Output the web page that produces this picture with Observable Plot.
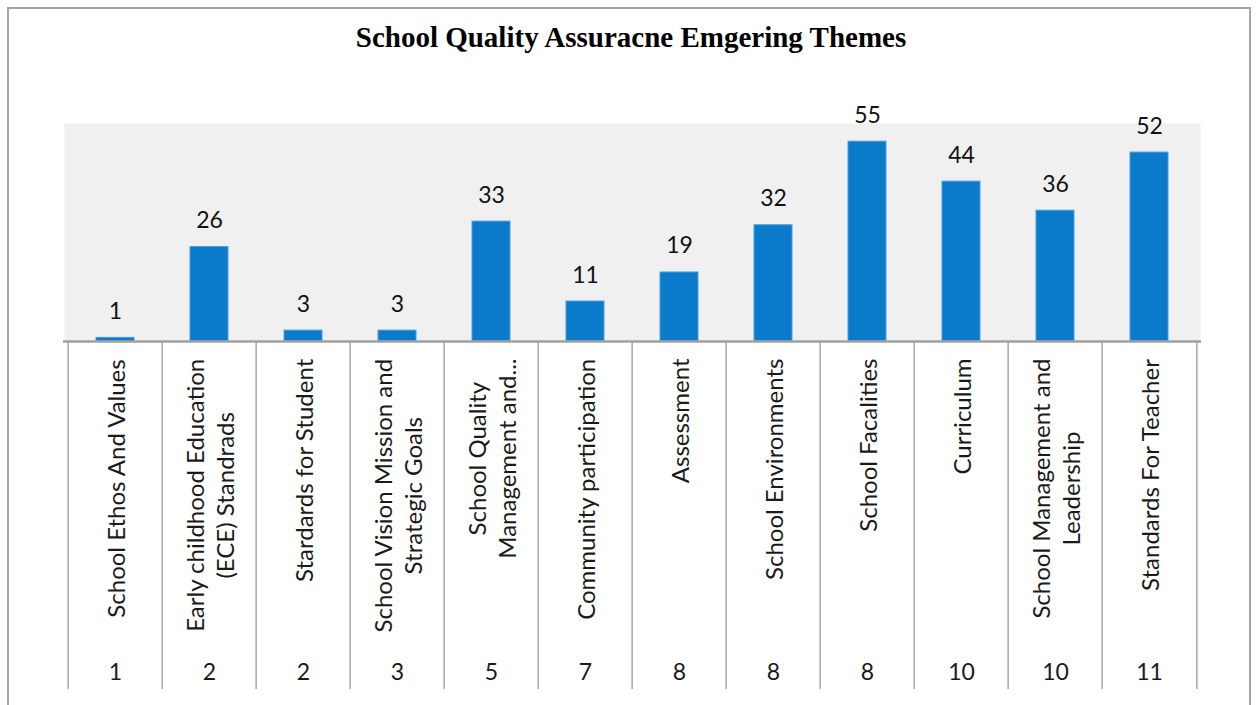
<!DOCTYPE html>
<html>
<head>
<meta charset="utf-8">
<script src="https://cdn.jsdelivr.net/npm/d3@7"></script>
<script src="https://cdn.jsdelivr.net/npm/@observablehq/plot@0.6"></script>
<style>
  html, body { margin: 0; padding: 0; overflow: hidden; background: #fff; }
  #frame { position: absolute; left: 7px; top: 7px; width: 1240px; height: 720px; border: 2px solid #a6a6a6; }
  #title { position: absolute; left: 0; top: 21px; width: 1262px; text-align: center;
           font-family: "Liberation Serif", "Times New Roman", serif; font-weight: bold; font-size: 29px; color: #000; }
  #chart { position: absolute; left: 0; top: 100px; }
</style>
</head>
<body>
<div id="frame"></div>
<div id="title">School Quality Assuracne Emgering Themes</div>
<div id="chart"></div>
<script>
const categories = [
  "School Ethos And Values",
  "Early childhood Education\n(ECE) Standrads",
  "Stardards for Student",
  "School Vision Mission and\nStrategic Goals",
  "School Quality\nManagement and...",
  "Community participation",
  "Assessment",
  "School Environments",
  "School Facalities",
  "Curriculum",
  "School Management and\nLeadership",
  "Standards For Teacher"
];
const values = [1, 26, 3, 3, 33, 11, 19, 32, 55, 44, 36, 52];
const groups = ["1", "2", "2", "3", "5", "7", "8", "8", "8", "10", "10", "11"];

const data = categories.map((c, i) => ({category: c, value: values[i], group: groups[i]}));

const W = 1256, H = 600;
const mTop = 23, mBottom = 359, mLeft = 64, mRight = 56;
const plotH = H - mTop - mBottom;
const step = (W - mLeft - mRight) / categories.length;
const yMax = 60;
const pxPerUnit = plotH / yMax;
const sepDepth = 348; // px below the baseline

const labelSize = 24;
const canvas = document.createElement("canvas");
const ctx = canvas.getContext("2d");
ctx.font = labelSize + "px Lato";
function maxLineWidth(s) {
  return Math.max(...s.split("\n").map(l => ctx.measureText(l).width));
}

const labelMarks = categories.map(c => Plot.text([c], {
  x: d => d,
  text: d => d,
  frameAnchor: "bottom",
  dy: 17 + maxLineWidth(c) / 2,
  rotate: -90,
  textAnchor: "middle",
  lineAnchor: "middle",
  lineHeight: 1.25,
  fontSize: labelSize,
  fill: "#1a1a1a"
}));

const chart = Plot.plot({
  width: W,
  height: H,
  marginTop: mTop,
  marginBottom: mBottom,
  marginLeft: mLeft,
  marginRight: mRight,
  style: {background: "transparent", overflow: "visible", fontFamily: "Lato, sans-serif"},
  x: {domain: categories, paddingInner: 0.6, paddingOuter: 0.3, axis: null},
  y: {domain: [0, yMax], axis: null},
  marks: [
    Plot.frame({fill: "#f0f0f0", stroke: null}),
    Plot.barY(data, {x: "category", y: "value", fill: "#0a7bca", stroke: "#4a9ee0", strokeWidth: 1}),
    Plot.ruleX(data, {x: "category", y1: 0, y2: -sepDepth / pxPerUnit, dx: -step / 2, stroke: "#a6a6a6", strokeWidth: 1.5}),
    Plot.ruleX([categories[categories.length - 1]], {x: d => d, y1: 0, y2: -sepDepth / pxPerUnit, dx: step / 2, stroke: "#a6a6a6", strokeWidth: 1.5}),
    Plot.ruleY([0], {stroke: "#a0a0a0", strokeWidth: 2.5, insetLeft: -1, insetRight: -1}),
    Plot.text(data, {x: "category", y: "value", text: d => String(d.value), lineAnchor: "bottom", dy: -19, fontSize: 23, fill: "#111"}),
    ...labelMarks,
    Plot.text(data, {x: "category", text: "group", frameAnchor: "bottom", dy: 331, lineAnchor: "middle", fontSize: 23, fill: "#1a1a1a"})
  ]
});
document.getElementById("chart").appendChild(chart);
</script>
</body>
</html>
